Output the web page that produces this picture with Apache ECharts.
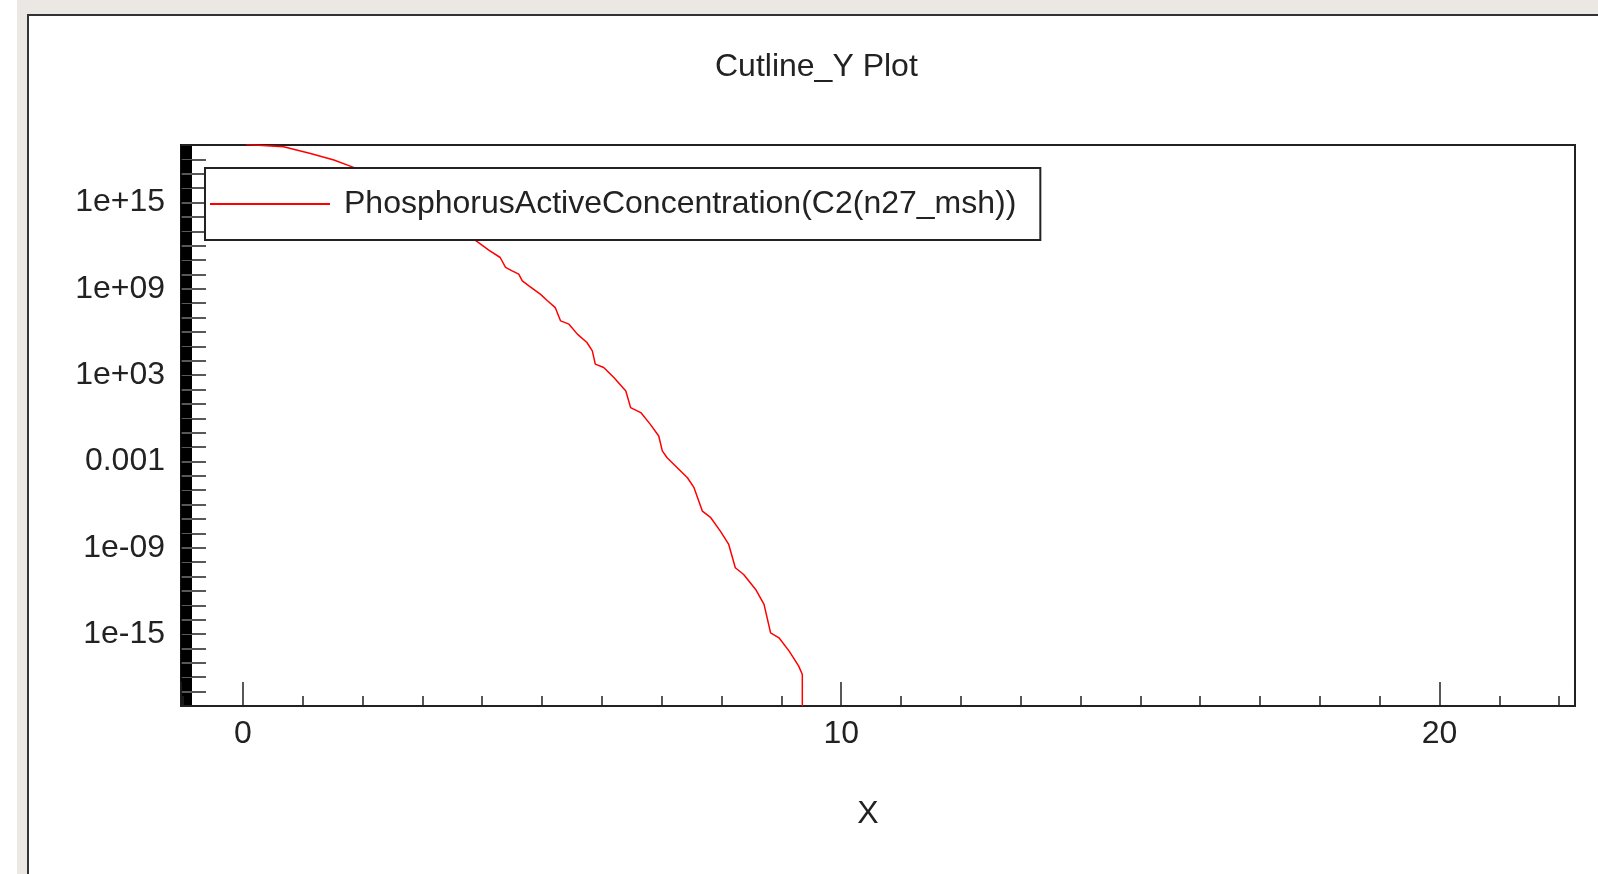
<!DOCTYPE html>
<html lang="en">

<head>
    <meta charset="UTF-8">
    <title>Cutline_Y Plot</title>
    <style>
        * {
            margin: 0;
            padding: 0;
            box-sizing: border-box;
        }

        html,
        body {
            width: 100%;
            height: 100%;
            background: #fff;
            overflow: hidden;
        }

        /* window frame behind the chart */
        .frame {
            position: absolute;
            left: 17px;
            top: 0;
            right: 0;
            bottom: 0;
            background: #ebe8e4;
        }

        .panel {
            position: absolute;
            left: 27px;
            top: 14px;
            width: 2000px;
            height: 1000px;
            background: #fff;
            border-left: 2px solid #333;
            border-top: 2px solid #333;
        }

        #box {
            position: absolute;
            left: 0;
            top: 0;
            width: 1598px;
            height: 874px;
        }
    </style>
    <script src="https://cdn.jsdelivr.net/npm/echarts@6/dist/echarts.min.js"></script>
</head>

<body>
    <div class="frame"></div>
    <div class="panel"></div>
    <div id="box"></div>

    <script>
        // x position along the cutline
        var xPos = [0.05, 0.68, 1.13, 1.52, 1.85, 2.9,
            3.91, 4.11, 4.30, 4.39, 4.50, 4.61, 4.67, 4.78, 4.97, 5.09, 5.22, 5.31, 5.45, 5.59, 5.75, 5.84, 5.89,
            6.03, 6.20, 6.40, 6.48, 6.65, 6.81, 6.95, 7.01, 7.09, 7.23, 7.43, 7.54, 7.68, 7.82, 7.98, 8.12,
            8.23, 8.37, 8.57, 8.71, 8.82, 8.96, 9.13, 9.29, 9.35, 9.35];
        // phosphorus active concentration
        var conc = [1.1e19, 7.6e18, 2.6e18, 9.1e17, 2.8e17, 1.0e15,
            1.97e12, 4.9e11, 1.51e11, 3.1e10, 1.78e10, 1.05e10, 3.6e9, 1.62e9, 4.3e8, 1.48e8, 5.0e7, 5.9e6, 3.5e6, 7.1e5, 1.86e5, 4.9e4, 5.8e3,
            3.4e3, 680, 79, 5.5, 2.5, 0.38, 0.059, 5.4e-3, 1.8e-3, 4.8e-4, 7.4e-5, 1.5e-5, 3.5e-7, 1.23e-7, 1.45e-8, 1.7e-9,
            4.1e-11, 1.38e-11, 1.26e-12, 1.15e-13, 1.2e-15, 5.5e-16, 6.5e-17, 5.9e-18, 1.55e-18, 1e-20];

        var yTickExps = [-15, -9, -3, 3, 9, 15];
        var yTickLabels = ['1e-15', '1e-09', '0.001', '1e+03', '1e+09', '1e+15'];
        var xTickLabels = [0, 10, 20];

        var seriesName = 'PhosphorusActiveConcentration(C2(n27_msh))';
        var font = 'Liberation Sans';

        var box = document.getElementById('box');
        var myChart = echarts.init(box);

        var lineData = [];
        for (var i = 0; i < xPos.length; i++) {
            lineData.push([xPos[i], Math.log10(conc[i])]);
        }

        myChart.setOption({
            animation: false,
            title: {
                text: 'Cutline_Y Plot',
                left: 710,
                top: 46,
                textStyle: {
                    fontFamily: font,
                    fontSize: 32,
                    fontWeight: 'normal',
                    color: '#222'
                }
            },
            legend: {
                left: 205,
                top: 168,
                padding: [20, 24, 20, 5],
                itemWidth: 120,
                itemHeight: 2,
                backgroundColor: '#fff',
                borderColor: '#222',
                borderWidth: 2,
                borderRadius: 0,
                textStyle: {
                    fontFamily: font,
                    fontSize: 32,
                    color: '#222',
                    padding: [0, 0, 0, 9]
                },
                data: [{ name: seriesName, icon: 'rect' }]
            },
            grid: {
                left: 181,
                top: 145,
                right: 23,
                bottom: 168,
                show: true,
                borderColor: '#222',
                borderWidth: 2,
                containLabel: false
            },
            xAxis: {
                type: 'value',
                min: -1.035,
                max: 22.265,
                splitNumber: 2,
                minInterval: 10,
                maxInterval: 10,
                name: 'X',
                nameLocation: 'middle',
                nameGap: 92,
                nameTextStyle: {
                    fontFamily: font,
                    fontSize: 32,
                    color: '#222',
                    padding: [0, 20, 0, 0]
                },
                axisLine: { show: true, onZero: false, lineStyle: { color: '#222', width: 2 } },
                axisTick: { show: true, inside: true, length: 24, lineStyle: { color: '#222', width: 1.5 } },
                minorTick: { show: true, splitNumber: 10, length: 10, lineStyle: { color: '#222', width: 1.5 } },
                splitLine: { show: false },
                axisLabel: {
                    showMinLabel: false,
                    showMaxLabel: false,
                    margin: 12,
                    fontFamily: font,
                    fontSize: 32,
                    color: '#222',
                    formatter: function (v) {
                        return xTickLabels.indexOf(v) >= 0 ? String(v) : '';
                    }
                }
            },
            yAxis: {
                type: 'value',
                min: -20,
                max: 19,
                interval: 1,
                axisLine: { show: true, onZero: false, lineStyle: { color: '#111', width: 2 } },
                axisTick: { show: true, inside: true, length: 25, lineStyle: { color: '#222', width: 1.5 } },
                minorTick: { show: true, splitNumber: 8, length: 11, lineStyle: { color: '#000', width: 2 } },
                splitLine: { show: false },
                axisLabel: {
                    margin: 16,
                    fontFamily: font,
                    fontSize: 32,
                    color: '#222',
                    formatter: function (v) {
                        var k = yTickExps.indexOf(v);
                        return k >= 0 ? yTickLabels[k] : '';
                    }
                }
            },
            series: [
                {
                    name: seriesName,
                    type: 'line',
                    symbol: 'none',
                    clip: true,
                    lineStyle: { color: '#ff0000', width: 1.5 },
                    itemStyle: { color: '#ff0000' },
                    data: lineData
                }
            ]
        });

        window.onresize = function () {
            myChart.resize();
        }
    </script>
</body>

</html>
